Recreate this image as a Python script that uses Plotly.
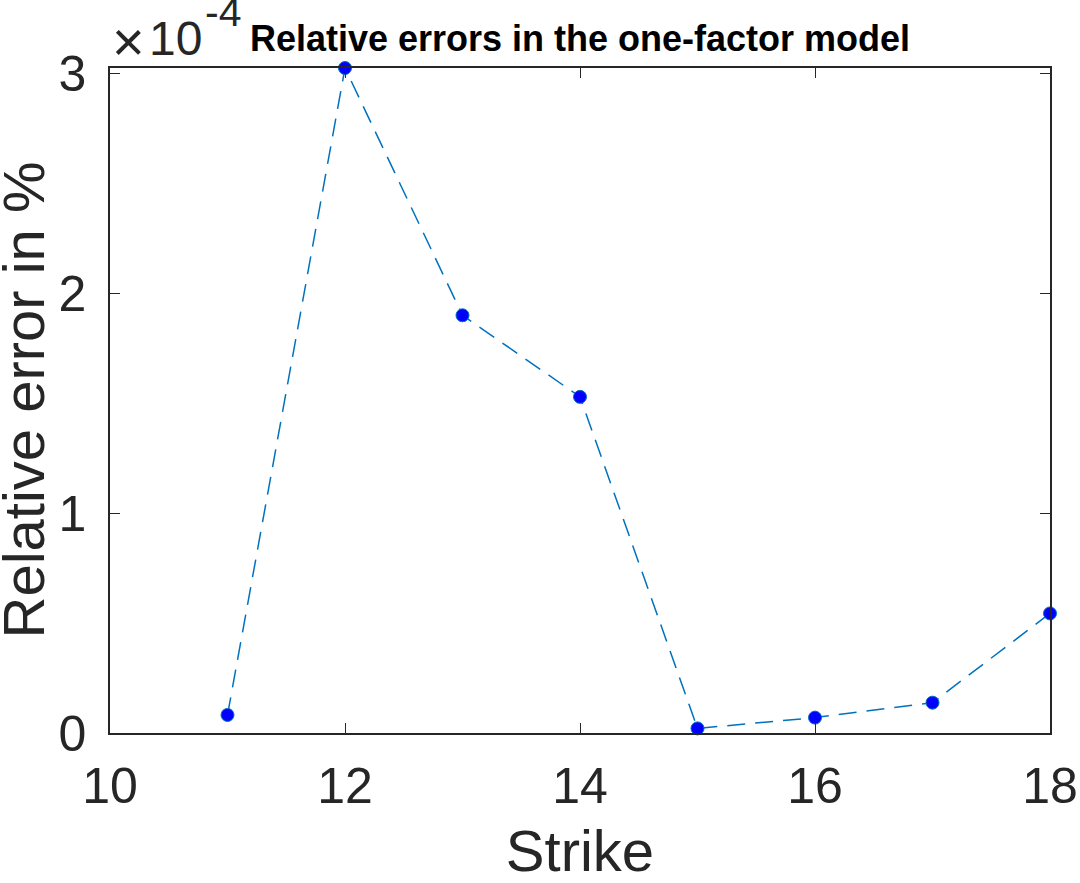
import plotly.graph_objects as go

strikes = [11, 12, 13, 14, 15, 16, 17, 18]
rel_err_e4 = [0.082, 3.025, 1.90, 1.529, 0.021, 0.070, 0.138, 0.544]  # in units of 1e-4 %
x_ticks = [10, 12, 14, 16, 18]
y_ticks = [0, 1, 2, 3]

axis_col = "#262626"
font_fam = "Liberation Sans, Arial, Helvetica, sans-serif"
W, H = 1080, 883

fig = go.Figure()
fig.add_trace(go.Scatter(
    x=strikes, y=rel_err_e4, mode="lines+markers",
    line=dict(color="#0072BD", width=1.5, dash="18px,10px"),
    marker=dict(color="#0000FF", size=13, line=dict(color="#0072BD", width=1)),
    cliponaxis=False, showlegend=False,
))

fig.update_layout(
    width=W, height=H,
    margin=dict(l=110, r=30, t=67.5, b=150),
    paper_bgcolor="white", plot_bgcolor="white",
    font=dict(family=font_fam, color=axis_col),
    title=dict(text="<b>Relative errors in the one-factor model</b>",
               font=dict(family=font_fam, size=36, color="black"),
               x=0.5, xref="paper", xanchor="center",
               y=1 - 51 / H, yref="container", yanchor="bottom"),
)

fig.update_xaxes(
    range=[10, 18], tickvals=x_ticks, ticktext=[str(v) for v in x_ticks],
    ticks="inside", ticklen=10, tickwidth=1.3, tickcolor=axis_col,
    showline=True, linecolor=axis_col, linewidth=1.5, mirror="ticks",
    showgrid=False, zeroline=False, automargin=False,
    ticklabelstandoff=8,
    tickfont=dict(size=50, color=axis_col),
    title=dict(text="Strike", font=dict(size=58, color=axis_col), standoff=34),
)
fig.update_yaxes(
    range=[0, 3.025], tickvals=y_ticks, ticktext=[str(v) for v in y_ticks],
    ticks="inside", ticklen=10, tickwidth=1.3, tickcolor=axis_col,
    showline=True, linecolor=axis_col, linewidth=1.5, mirror="ticks",
    showgrid=False, zeroline=False, automargin=False,
    ticklabelstandoff=12,
    tickfont=dict(size=50, color=axis_col),
)

fig.add_annotation(
    text="Relative error in %", xref="paper", yref="paper",
    x=(23 - 110) / 940, y=0.5, xanchor="center", yanchor="middle", textangle=-90,
    showarrow=False, font=dict(family=font_fam, size=58, color=axis_col),
)

fig.add_annotation(
    text="×", xref="paper", yref="paper",
    x=0.0, y=1.0, xanchor="left", yanchor="bottom", yshift=-7, xshift=0,
    showarrow=False, font=dict(family=font_fam, size=56, color=axis_col),
)
fig.add_annotation(
    text="10", xref="paper", yref="paper",
    x=0.0, y=1.0, xanchor="left", yanchor="bottom", yshift=1, xshift=37,
    showarrow=False, font=dict(family=font_fam, size=48, color=axis_col),
)
fig.add_annotation(
    text="-4", xref="paper", yref="paper",
    x=0.0, y=1.0, xanchor="left", yanchor="bottom", yshift=31, xshift=93,
    showarrow=False, font=dict(family=font_fam, size=41, color=axis_col),
)

fig.write_html("out.html", config={"displayModeBar": False},
               post_script="document.body.style.margin='0';document.body.style.overflow='hidden';")
